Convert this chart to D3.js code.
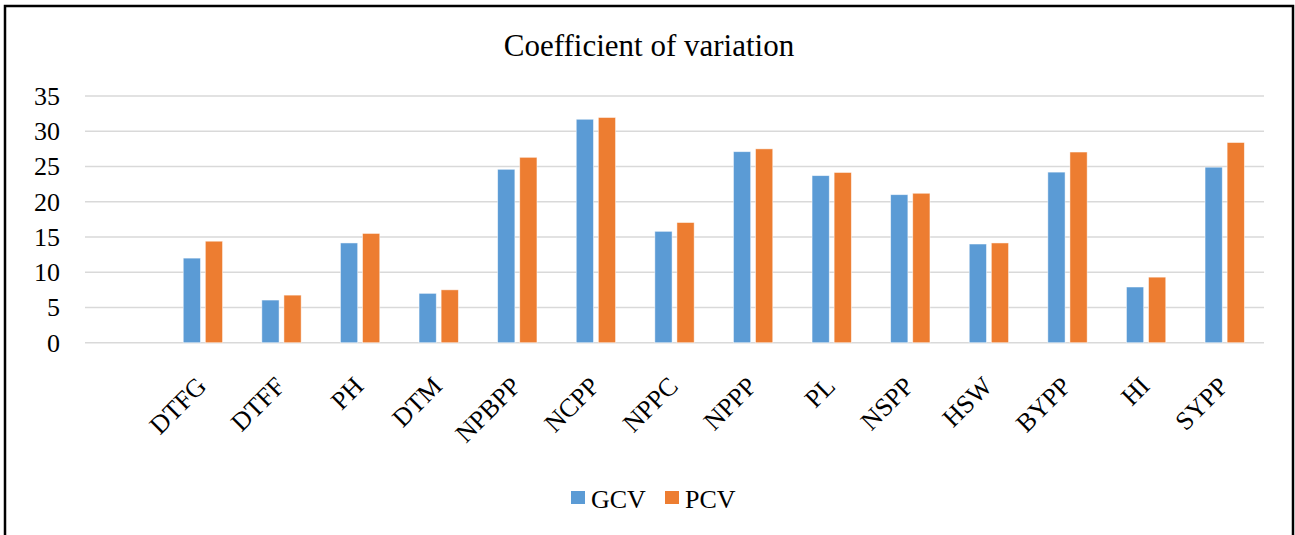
<!DOCTYPE html>
<html>
<head>
<meta charset="utf-8">
<script src="https://cdn.jsdelivr.net/npm/d3@7"></script>
<style>
  body { margin: 0; background: #fff; }
  svg text { font-family: "Liberation Serif", "Times New Roman", serif; fill: #000; }
</style>
</head>
<body>
<div id="chart"></div>
<script>
// data
var categories = ["", "DTFG", "DTFF", "PH", "DTM", "NPBPP", "NCPP", "NPPC", "NPPP", "PL", "NSPP", "HSW", "BYPP", "HI", "SYPP"];
var gcv = [null, 12.0, 6.05, 14.15, 7.0, 24.6, 31.7, 15.8, 27.1, 23.7, 21.0, 14.0, 24.2, 7.9, 24.9];
var pcv = [null, 14.4, 6.75, 15.5, 7.5, 26.3, 31.95, 17.05, 27.5, 24.15, 21.2, 14.15, 27.05, 9.3, 28.4];
var seriesNames = ["GCV", "PCV"];
var seriesColors = ["#5B9BD5", "#ED7D31"];
var yTicks = [0, 5, 10, 15, 20, 25, 30, 35];

var width = 1295, height = 535;
var plotLeft = 85, plotRight = 1264, plotTop = 96, plotBottom = 342.7;

var svg = d3.select("#chart").append("svg")
    .attr("width", width)
    .attr("height", height);

// outer frame
svg.append("rect")
    .attr("x", 5).attr("y", 6)
    .attr("width", 1288).attr("height", 560)
    .attr("fill", "none")
    .attr("stroke", "#000")
    .attr("stroke-width", 2.5);

svg.append("text")
    .attr("x", 649).attr("y", 56)
    .attr("text-anchor", "middle")
    .attr("font-size", "31px")
    .text("Coefficient of variation");

var x0 = d3.scaleBand()
    .domain(categories)
    .range([plotLeft, plotRight])
    .paddingInner(0.5)
    .paddingOuter(0.25);

var x1 = d3.scaleBand()
    .domain(seriesNames)
    .range([0, x0.bandwidth()])
    .paddingInner(0.22);

var y = d3.scaleLinear()
    .domain([0, 35])
    .range([plotBottom, plotTop]);

// gridlines
svg.append("g")
    .selectAll("line")
    .data(yTicks)
    .enter()
    .append("line")
    .attr("x1", plotLeft).attr("x2", plotRight)
    .attr("y1", function(d){ return y(d); })
    .attr("y2", function(d){ return y(d); })
    .attr("stroke", "#d9d9d9")
    .attr("stroke-width", 1.5);

// y axis labels
var yAxis = svg.append("g")
    .attr("transform", "translate(" + (plotLeft - 25) + ",0)")
    .call(d3.axisLeft(y).tickValues(yTicks).tickSize(0).tickPadding(0));
yAxis.select(".domain").remove();
yAxis.selectAll("text")
    .attr("font-family", "Liberation Serif")
    .attr("font-size", "26px")
    .attr("fill", "#000");

// bars
var rows = categories.map(function(c, i){
    return { cat: c, values: [gcv[i], pcv[i]] };
});

var groups = svg.append("g")
    .selectAll("g")
    .data(rows)
    .enter()
    .append("g")
    .attr("transform", function(d){ return "translate(" + x0(d.cat) + ",0)"; });

groups.selectAll("rect")
    .data(function(d){
        return d.values.map(function(v, j){ return { name: seriesNames[j], value: v, color: seriesColors[j] }; })
            .filter(function(e){ return e.value != null; });
    })
    .enter()
    .append("rect")
    .attr("x", function(d){ return x1(d.name); })
    .attr("width", x1.bandwidth())
    .attr("y", function(d){ return y(d.value); })
    .attr("height", function(d){ return y(0) - y(d.value); })
    .attr("fill", function(d){ return d.color; })
    .attr("stroke", "#fff")
    .attr("stroke-opacity", 0.6)
    .attr("stroke-width", 0.8);

// x axis labels, rotated
var xAxis = svg.append("g")
    .attr("transform", "translate(0," + plotBottom + ")")
    .call(d3.axisBottom(x0).tickSize(0).tickPadding(0));
xAxis.select(".domain").remove();
xAxis.selectAll("text")
    .attr("font-family", "Liberation Serif")
    .attr("font-size", "26px")
    .attr("fill", "#000")
    .attr("text-anchor", "end")
    .attr("dy", "0")
    .attr("transform", "translate(5,45) rotate(-45)");

// legend
var legend = svg.append("g")
    .selectAll("g")
    .data(seriesNames)
    .enter()
    .append("g")
    .attr("transform", function(d, i){ return "translate(" + (571 + i * 94) + ",491)"; });

legend.append("rect")
    .attr("width", 14).attr("height", 13)
    .attr("fill", function(d, i){ return seriesColors[i]; });

legend.append("text")
    .attr("x", 20).attr("y", 17)
    .attr("font-size", "26px")
    .text(function(d){ return d; });
</script>
</body>
</html>
